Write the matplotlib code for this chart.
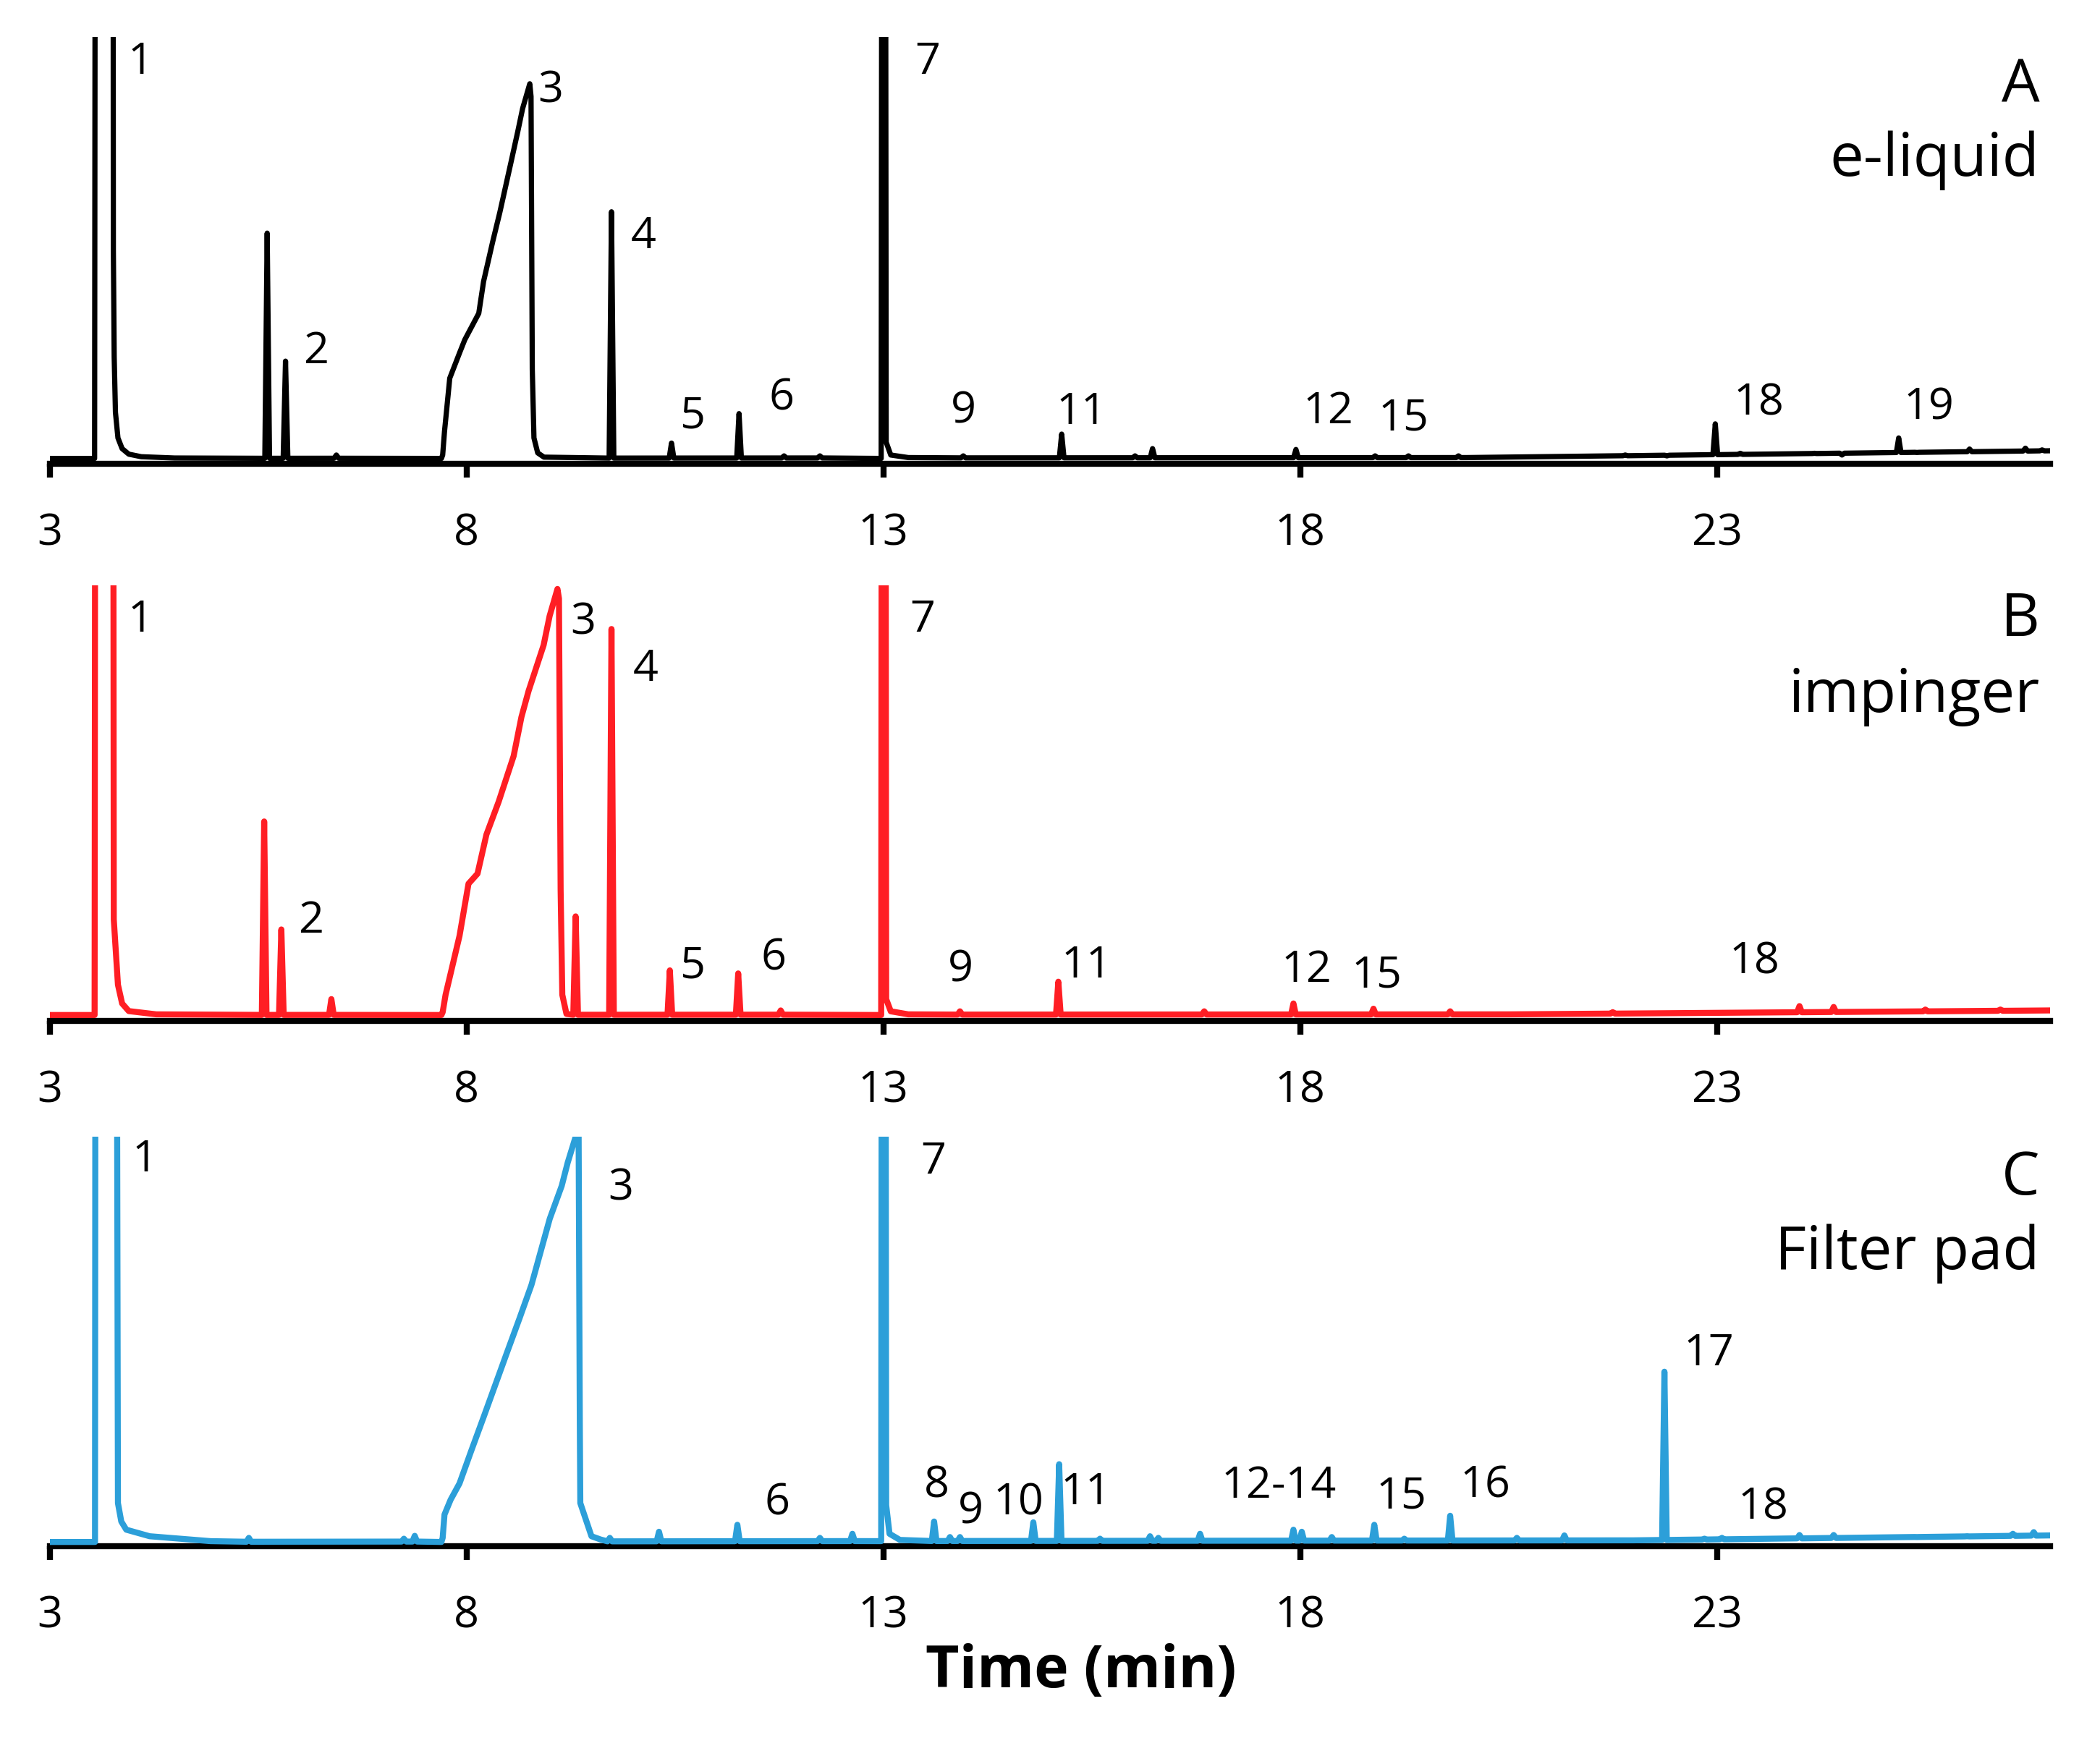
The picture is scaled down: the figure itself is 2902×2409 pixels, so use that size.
import numpy as np
import matplotlib.pyplot as plt

plt.rcParams['font.family'] = ['Open Sans', 'DejaVu Sans']

# ---- panel A : e-liquid (black) ----
a_base_t = [3.0, 20.0, 27.0]
a_base_h = [0.012, 0.014, 0.03]
a_shapes = [
    [(3.54, 0.012), (3.555, 3.0), (3.757, 3.0), (3.765, 0.50), (3.775, 0.25), (3.79, 0.12),
     (3.82, 0.06), (3.87, 0.035), (3.95, 0.022), (4.1, 0.016), (4.5, 0.013)],
    [(7.70, 0.012), (7.715, 0.02), (7.737, 0.075), (7.80, 0.20), (7.917, 0.259), (7.98, 0.29),
     (8.148, 0.352), (8.206, 0.427), (8.314, 0.519), (8.40, 0.588), (8.53, 0.702),
     (8.617, 0.779), (8.674, 0.832), (8.76, 0.89), (8.775, 0.86), (8.79, 0.22),
     (8.81, 0.06), (8.855, 0.025), (8.93, 0.015)],
    [(12.975, 0.012), (12.99, 3.0), (13.02, 3.0), (13.035, 0.05), (13.09, 0.02), (13.3, 0.014)],
]
a_peak_t = [5.61, 5.83, 6.44, 9.74, 10.46, 11.27, 11.81, 12.24, 13.96, 15.14, 16.02, 16.23,
            17.95, 18.9, 19.3, 19.9, 21.9, 22.4, 22.98, 23.28, 24.17, 24.5, 25.18, 25.4,
            26.03, 26.7, 26.9]
a_peak_h = [0.54, 0.24, 0.02, 0.59, 0.048, 0.117, 0.018, 0.018, 0.018, 0.069, 0.018, 0.035,
            0.033, 0.018, 0.018, 0.018, 0.02, 0.018, 0.093, 0.024, 0.024, 0.02, 0.06, 0.026,
            0.034, 0.036, 0.032]
a_labels = ['1', '2', '3', '4', '5', '6', '7', '9', '11', '12', '15', '18', '19']
a_lab_t = [4.09, 6.2, 9.01, 10.12, 10.72, 11.78, 13.53, 13.96, 15.38, 18.34, 19.24, 23.5, 25.54]
a_lab_h = [0.94, 0.263, 0.873, 0.532, 0.11, 0.153, 0.94, 0.122, 0.119, 0.122, 0.106, 0.141, 0.131]

# ---- panel B : impinger (red) ----
b_base_t = [3.0, 20.5, 27.0]
b_base_h = [0.0135, 0.015, 0.024]
b_shapes = [
    [(3.54, 0.0135), (3.555, 3.0), (3.757, 3.0), (3.77, 0.233), (3.82, 0.083), (3.87, 0.04),
     (3.95, 0.0225), (4.28, 0.015)],
    [(7.70, 0.0135), (7.715, 0.02), (7.75, 0.06), (7.917, 0.195), (8.025, 0.315), (8.133, 0.338),
     (8.24, 0.428), (8.386, 0.503), (8.566, 0.608), (8.66, 0.698), (8.746, 0.758),
     (8.926, 0.863), (8.998, 0.93), (9.092, 0.992), (9.11, 0.97), (9.13, 0.30),
     (9.15, 0.06), (9.2, 0.016)],
    [(12.975, 0.0135), (12.99, 3.0), (13.02, 3.0), (13.035, 0.05), (13.09, 0.022), (13.3, 0.015)],
]
b_peak_t = [5.574, 5.78, 6.38, 9.31, 9.74, 10.44, 11.26, 11.77, 13.92, 15.1, 16.85, 17.92,
            18.88, 19.8, 21.75, 23.99, 24.4, 25.5, 26.4]
b_peak_h = [0.458, 0.21, 0.05, 0.24, 0.90, 0.116, 0.109, 0.024, 0.022, 0.09, 0.022, 0.04,
            0.028, 0.022, 0.02, 0.034, 0.032, 0.026, 0.026]
b_labels = ['1', '2', '3', '4', '5', '6', '7', '9', '11', '12', '15', '18']
b_lab_t = [4.09, 6.14, 9.4, 10.15, 10.72, 11.68, 13.47, 13.93, 15.44, 18.08, 18.92, 23.45]
b_lab_h = [0.92, 0.23, 0.914, 0.807, 0.126, 0.144, 0.92, 0.117, 0.126, 0.117, 0.104, 0.135]

# ---- panel C : filter pad (blue) ----
c_base_t = [3.0, 12.0, 22.0, 27.0]
c_base_h = [0.01, 0.012, 0.014, 0.026]
c_shapes = [
    [(3.545, 0.01), (3.555, 3.0), (3.79, 3.0), (3.82, 0.105), (3.86, 0.06), (3.92, 0.04),
     (4.2, 0.024), (4.93, 0.012)],
    [(7.70, 0.01), (7.715, 0.02), (7.737, 0.077), (7.81, 0.113), (7.917, 0.153), (8.06, 0.234),
     (8.206, 0.315), (8.35, 0.396), (8.494, 0.477), (8.638, 0.557), (8.78, 0.638),
     (8.89, 0.719), (9.0, 0.80), (9.143, 0.88), (9.215, 0.937), (9.31, 1.0),
     (9.345, 1.05), (9.36, 0.30), (9.366, 0.105), (9.5, 0.024), (9.61, 0.016)],
    [(12.975, 0.012), (12.99, 3.0), (13.02, 3.0), (13.035, 0.10), (13.075, 0.03), (13.2, 0.015)],
]
c_peak_t = [5.39, 7.25, 7.38, 9.72, 10.31, 11.25, 12.24, 12.63, 13.61, 13.8, 13.92, 14.8,
            15.11, 15.6, 16.2, 16.3, 16.8, 17.92, 18.02, 18.38, 18.89, 19.25, 19.8, 20.6,
            21.17, 22.37, 22.85, 23.06, 23.99, 24.4, 25.4, 26.0, 26.55, 26.8]
c_peak_h = [0.02, 0.018, 0.025, 0.02, 0.035, 0.052, 0.02, 0.03, 0.06, 0.022, 0.022, 0.058,
            0.20, 0.018, 0.024, 0.02, 0.03, 0.04, 0.035, 0.022, 0.052, 0.018, 0.074, 0.02,
            0.026, 0.426, 0.018, 0.02, 0.027, 0.027, 0.022, 0.024, 0.03, 0.034]
c_labels = ['1', '3', '6', '7', '8', '9', '10', '11', '12-14', '15', '16', '17', '18']
c_lab_t = [4.14, 9.85, 11.73, 13.6, 13.64, 14.05, 14.62, 15.43, 17.74, 19.21, 20.22, 22.9, 23.55]
c_lab_h = [0.943, 0.873, 0.104, 0.939, 0.147, 0.084, 0.104, 0.131, 0.147, 0.121, 0.147, 0.47, 0.094]

ticks = [3, 8, 13, 18, 23]
titles = [('A', 'e-liquid'), ('B', 'impinger'), ('C', 'Filter pad')]


def build_trace(base_t, base_h, shapes, peak_t, peak_h, w=0.028):
    pts = list(zip(base_t, base_h))
    for s in shapes:
        pts += s
    for t, h in zip(peak_t, peak_h):
        b = np.interp(t, base_t, base_h)
        pts += [(t - w, b), (t, h), (t + w, b)]
    pts.sort(key=lambda p: p[0])
    pts = np.array(pts)
    return pts[:, 0], pts[:, 1]


fig = plt.figure(figsize=(14.51, 12.045), dpi=200)
W, H = 1567.0, 1301.0
x0, x1 = 37 / W, 1530 / W
boxes = [(27.5, 346), (437, 762), (848.5, 1154)]

panels = [
    (a_base_t, a_base_h, a_shapes, a_peak_t, a_peak_h, a_labels, a_lab_t, a_lab_h, 'black', 2.6),
    (b_base_t, b_base_h, b_shapes, b_peak_t, b_peak_h, b_labels, b_lab_t, b_lab_h, '#ff1e24', 3.0),
    (c_base_t, c_base_h, c_shapes, c_peak_t, c_peak_h, c_labels, c_lab_t, c_lab_h, '#2c9fd9', 3.0),
]

for i, (bt, bh, sh, pt, ph, labs, lt, lh, col, lw) in enumerate(panels):
    top, bot = boxes[i]
    ax = fig.add_axes([x0, 1 - bot / H, x1 - x0, (bot - top) / H])
    t, y = build_trace(bt, bh, sh, pt, ph)
    ax.plot(t, y, color=col, lw=lw, solid_joinstyle='round', zorder=3)
    ax.set_xlim(3, 27)
    ax.set_ylim(0, 1)
    for s in ['left', 'right', 'top']:
        ax.spines[s].set_visible(False)
    ax.spines['bottom'].set_linewidth(3.0)
    ax.spines['bottom'].set_zorder(2)
    ax.set_yticks([])
    ax.set_xticks(ticks)
    ax.tick_params(axis='x', direction='out', length=7, width=3.0, pad=17, labelsize=22)
    for s, tx, hy in zip(labs, lt, lh):
        ax.text(tx, hy, s, fontsize=22, ha='center', va='center')
    ax.text(0.9946, [0.883, 0.92, 0.896][i], titles[i][0], transform=ax.transAxes,
            fontsize=30, ha='right', va='center')
    ax.text(0.9946, [0.71, 0.745, 0.715][i], titles[i][1], transform=ax.transAxes,
            fontsize=30, ha='right', va='center')

fig.text(806.5 / W, 1 - 1248 / H, 'Time (min)', fontsize=29, fontweight='bold',
         ha='center', va='center')

fig.savefig('out.png', dpi=200)
